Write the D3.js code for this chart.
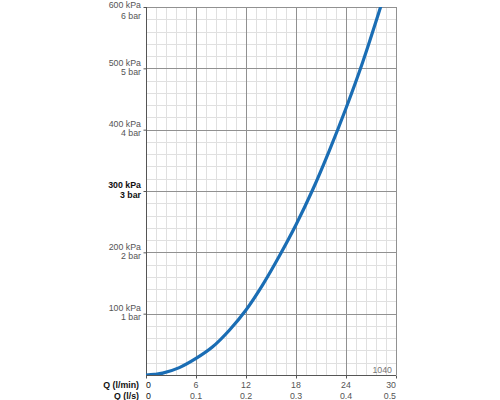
<!DOCTYPE html>
<html><head><meta charset="utf-8">
<script src="https://cdn.jsdelivr.net/npm/d3@7/dist/d3.min.js"></script>
<style>body{margin:0;background:#fff}svg{display:block}text{font-family:"Liberation Sans",Arial,sans-serif}</style>
</head><body><svg id="c" width="500" height="400"></svg>
<script>
const flowLmin = [0, 1, 2, 4, 6, 8, 10, 12, 14, 16, 18, 20, 22, 24, 26, 28.15];
const pressureKPa = [0, 1, 3, 12, 27, 46, 73, 106, 147, 194, 245, 302, 366, 435, 510, 600];
const xTicksLmin = [0, 6, 12, 18, 24, 30];
const xTicksLs = ["0", "0.1", "0.2", "0.3", "0.4", "0.5"];
const yTicksKPa = [100, 200, 300, 400, 500, 600];
const yTickBar = ["1 bar", "2 bar", "3 bar", "4 bar", "5 bar", "6 bar"];
const highlightKPa = 300;
const modelCode = "1040";

const svg = d3.select("#c");
const L = 146, R = 396, T = 7, B = 375;
const x = d3.scaleLinear().domain([0, 30]).range([L, R]);
const y = d3.scaleLinear().domain([0, 600]).range([B, T]);

// minor grid
const minorX = d3.range(0, 30.001, 1.2);
const minorY = d3.range(0, 600.001, 20);
const g = svg.append("g");
g.selectAll(".mx").data(minorX).join("line")
  .attr("x1", d => Math.round(x(d)) + 0.5).attr("x2", d => Math.round(x(d)) + 0.5)
  .attr("y1", T).attr("y2", B).attr("stroke", "#e0e0e0").attr("stroke-width", 1);
g.selectAll(".my").data(minorY).join("line")
  .attr("y1", d => Math.round(y(d)) + 0.5).attr("y2", d => Math.round(y(d)) + 0.5)
  .attr("x1", L).attr("x2", R).attr("stroke", "#e0e0e0").attr("stroke-width", 1);
// major grid
g.selectAll(".Mx").data(xTicksLmin.slice(1)).join("line")
  .attr("x1", d => Math.round(x(d)) + 0.5).attr("x2", d => Math.round(x(d)) + 0.5)
  .attr("y1", T).attr("y2", B).attr("stroke", "#919191").attr("stroke-width", 1);
g.selectAll(".My").data(yTicksKPa).join("line")
  .attr("y1", d => Math.round(y(d)) + 0.5).attr("y2", d => Math.round(y(d)) + 0.5)
  .attr("x1", L).attr("x2", R).attr("stroke", "#919191").attr("stroke-width", 1);

// axes
const xAxis = d3.axisBottom(x).tickValues(xTicksLmin).tickSize(3).tickFormat("");
svg.append("g").attr("transform", `translate(0,${B + 0.5})`).call(xAxis)
  .call(a => a.select(".domain").attr("stroke", "#555").attr("d", `M${L},0H${R}`))
  .call(a => a.selectAll(".tick line").attr("stroke", "#555"));
const yAxis = d3.axisLeft(y).tickValues(yTicksKPa).tickSize(3).tickFormat("");
svg.append("g").attr("transform", `translate(${L + 0.5},0)`).call(yAxis)
  .call(a => a.select(".domain").attr("stroke", "#555").attr("d", `M0,${T}V${B}`))
  .call(a => a.selectAll(".tick line").attr("stroke", "#555"));

// curve
const pts = flowLmin.map((q, i) => [q, pressureKPa[i]]);
svg.append("defs").append("clipPath").attr("id", "clip")
  .append("rect").attr("x", L).attr("y", T).attr("width", R - L).attr("height", B - T);
svg.append("path").datum(pts).attr("clip-path", "url(#clip)")
  .attr("d", d3.line().x(d => x(d[0])).y(d => y(d[1])).curve(d3.curveCatmullRom.alpha(0.5)))
  .attr("fill", "none").attr("stroke", "#1a6db4").attr("stroke-width", 3.2)
  .attr("stroke-linecap", "round");

// y labels
const fs = 8.8;
const yl = svg.append("g").attr("font-size", fs).attr("text-anchor", "end");
yTicksKPa.forEach((v, i) => {
  const py = y(v);
  const hl = v === highlightKPa;
  const c = hl ? "#111" : "#555";
  const fw = hl ? "bold" : "normal";
  yl.append("text").attr("x", 141).attr("y", Math.max(py - 2.7, 8)).attr("fill", c)
    .attr("font-weight", fw).text(v + " kPa");
  yl.append("text").attr("x", 141).attr("y", Math.max(py + 6.7, 19)).attr("fill", c)
    .attr("font-weight", fw).text(yTickBar[i]);
});

// x labels
const xl = svg.append("g").attr("font-size", fs);
xl.append("text").attr("x", 139).attr("y", 388.3).attr("text-anchor", "end")
  .attr("font-weight", "bold").attr("fill", "#111").text("Q (l/min)");
xl.append("text").attr("x", 139).attr("y", 399).attr("text-anchor", "end")
  .attr("font-weight", "bold").attr("fill", "#111").text("Q (l/s)");
const anchorOf = i => i === 0 ? "start" : (i === xTicksLmin.length - 1 ? "end" : "middle");
xTicksLmin.forEach((v, i) => {
  const px = x(v);
  const c = i === 0 ? "#111" : "#555";
  xl.append("text").attr("x", px).attr("y", 388.3).attr("text-anchor", anchorOf(i))
    .attr("fill", c).text(v);
  xl.append("text").attr("x", px).attr("y", 399).attr("text-anchor", anchorOf(i))
    .attr("fill", c).text(xTicksLs[i]);
});

svg.append("text").attr("x", 392).attr("y", 373).attr("text-anchor", "end")
  .attr("font-size", fs).attr("fill", "#777").text(modelCode);
</script></body></html>
